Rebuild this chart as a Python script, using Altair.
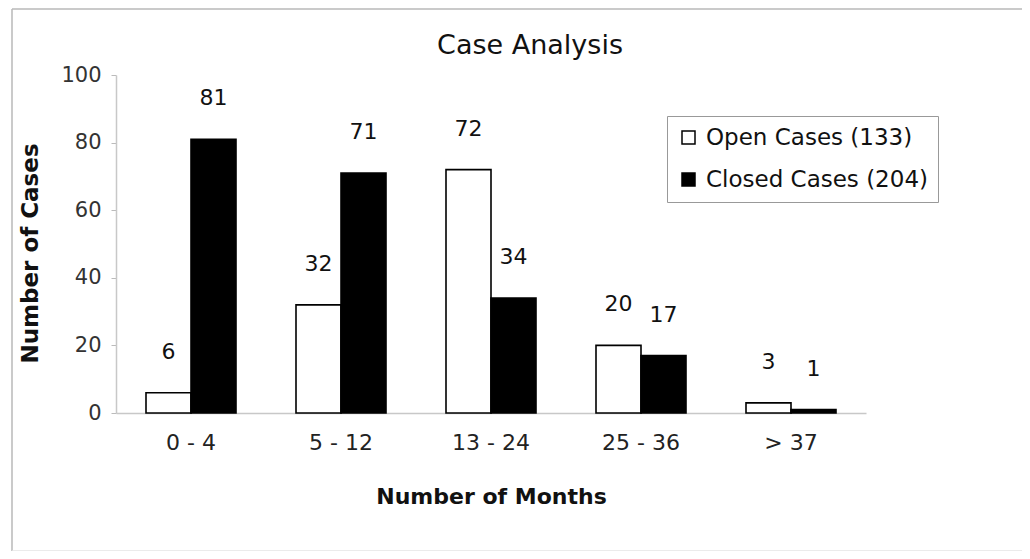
import altair as alt
import pandas as pd

categories = ["0 - 4", "5 - 12", "13 - 24", "25 - 36", "> 37"]
open_cases = [6, 32, 72, 20, 3]
closed_cases = [81, 71, 34, 17, 1]
series_names = ["Open Cases (133)", "Closed Cases (204)"]
y_ticks = [0, 20, 40, 60, 80, 100]
chart_title = "Case Analysis"

rows = []
for c, o, cl in zip(categories, open_cases, closed_cases):
    rows.append({"months": c, "series": series_names[0], "cases": o})
    rows.append({"months": c, "series": series_names[1], "cases": cl})
df = pd.DataFrame(rows)
one = pd.DataFrame({"k": [0]})

FONT = "DejaVu Sans"

x_enc = alt.X(
    "months:N",
    sort=categories,
    scale=alt.Scale(paddingInner=0.4, paddingOuter=0.2),
    axis=alt.Axis(
        title="Number of Months",
        labelAngle=0,
        labelFontSize=22,
        labelColor="#222",
        labelPadding=19,
        ticks=False,
        domainColor="#c8c8c8",
        domainWidth=1.5,
        titleFontSize=22,
        titleFontWeight="bold",
        titleColor="#111",
        titleY=73,
        labelFont=FONT,
        titleFont=FONT,
    ),
)
y_enc = alt.Y(
    "cases:Q",
    scale=alt.Scale(domain=[0, 100], nice=False),
    axis=alt.Axis(
        title="Number of Cases",
        values=y_ticks,
        grid=False,
        labelFontSize=21,
        labelColor="#333",
        labelPadding=10,
        tickSize=5,
        tickColor="#bbbbbb",
        domainColor="#c8c8c8",
        domainWidth=1.5,
        titleFontSize=23,
        titleFontWeight="bold",
        titleColor="#111",
        titleX=-74,
        titleY=178,
        labelFont=FONT,
        titleFont=FONT,
    ),
)
xoff = alt.XOffset("series:N", sort=series_names, scale=alt.Scale(paddingInner=0, paddingOuter=0))

bars = alt.Chart(df).mark_bar(stroke="black", strokeWidth=1.6).encode(
    x=x_enc,
    xOffset=xoff,
    y=y_enc,
    fill=alt.Fill(
        "series:N",
        sort=series_names,
        scale=alt.Scale(domain=series_names, range=["white", "black"]),
        legend=alt.Legend(
            title=None,
            orient="none",
            legendX=551,
            legendY=41,
            fillColor="white",
            strokeColor="#999999",
            padding=10,
            rowPadding=18,
            labelFontSize=23,
            labelFont=FONT,
            labelColor="#111",
            labelLimit=400,
            symbolType="square",
            symbolSize=169,
            symbolStrokeColor="black",
            symbolStrokeWidth=1.5,
            labelOffset=6,
        ),
    ),
)

labels = alt.Chart(df).mark_text(
    dy=-41, fontSize=22, font=FONT, color="#111", baseline="middle"
).encode(
    x=alt.X("months:N", sort=categories),
    xOffset=xoff,
    y="cases:Q",
    text="cases:Q",
)

title_mark = alt.Chart(one).mark_text(
    fontSize=27, font=FONT, color="#111", baseline="middle", align="center"
).encode(
    x=alt.value(414),
    y=alt.value(-29),
    text=alt.value(chart_title),
)

frame_top = alt.Chart(one).mark_rule(color="#b8b8b8", strokeWidth=1.5).encode(
    x=alt.value(-104), x2=alt.value(909), y=alt.value(-66)
)
frame_left = alt.Chart(one).mark_rule(color="#b8b8b8", strokeWidth=1.5).encode(
    x=alt.value(-104), y=alt.value(-66), y2=alt.value(476)
)
frame_right = alt.Chart(one).mark_rule(color="#e4e4e4", strokeWidth=1.5).encode(
    x=alt.value(909), y=alt.value(-66), y2=alt.value(476)
)
frame_bottom = alt.Chart(one).mark_rule(color="#e4e4e4", strokeWidth=1.5).encode(
    x=alt.value(-104), x2=alt.value(909), y=alt.value(476)
)

chart = alt.layer(
    frame_top, frame_left, frame_right, frame_bottom, bars, labels, title_mark
).properties(
    width=750,
    height=338,
    background="white",
    autosize=alt.AutoSizeParams(type="none"),
    padding={"left": 108, "top": 67, "right": 156, "bottom": 138},
).configure_view(strokeWidth=0)

chart.save("out.html", embed_options={"renderer": "svg", "actions": False})
